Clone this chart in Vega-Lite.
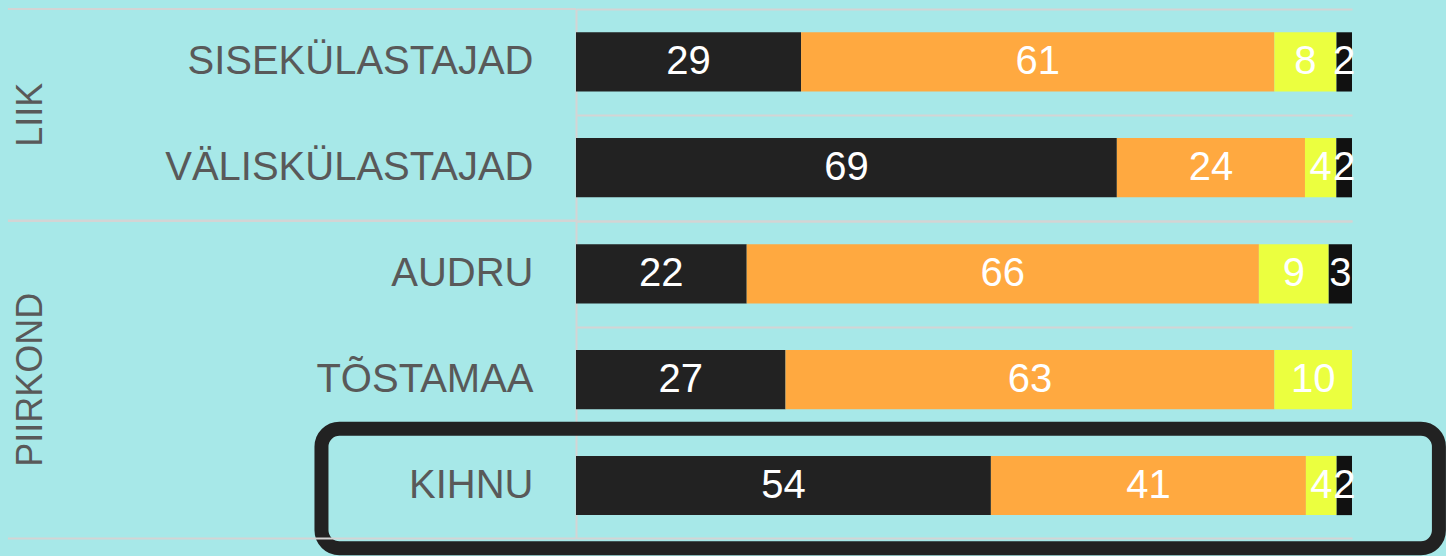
{
  "$schema": "https://vega.github.io/schema/vega-lite/v6.json",
  "background": "#a7e8e8",
  "padding": {"left": 6, "top": -11, "right": 0, "bottom": 0},
  "bounds": "flush",
  "data": {
    "values": [
      {"group": "LIIK", "row": "SISEKÜLASTAJAD", "cat": "k1", "value": 29},
      {"group": "LIIK", "row": "SISEKÜLASTAJAD", "cat": "k2", "value": 61},
      {"group": "LIIK", "row": "SISEKÜLASTAJAD", "cat": "k3", "value": 8},
      {"group": "LIIK", "row": "SISEKÜLASTAJAD", "cat": "k4", "value": 2},
      {"group": "LIIK", "row": "VÄLISKÜLASTAJAD", "cat": "k1", "value": 69},
      {"group": "LIIK", "row": "VÄLISKÜLASTAJAD", "cat": "k2", "value": 24},
      {"group": "LIIK", "row": "VÄLISKÜLASTAJAD", "cat": "k3", "value": 4},
      {"group": "LIIK", "row": "VÄLISKÜLASTAJAD", "cat": "k4", "value": 2},
      {"group": "PIIRKOND", "row": "AUDRU", "cat": "k1", "value": 22},
      {"group": "PIIRKOND", "row": "AUDRU", "cat": "k2", "value": 66},
      {"group": "PIIRKOND", "row": "AUDRU", "cat": "k3", "value": 9},
      {"group": "PIIRKOND", "row": "AUDRU", "cat": "k4", "value": 3},
      {"group": "PIIRKOND", "row": "TÕSTAMAA", "cat": "k1", "value": 27},
      {"group": "PIIRKOND", "row": "TÕSTAMAA", "cat": "k2", "value": 63},
      {"group": "PIIRKOND", "row": "TÕSTAMAA", "cat": "k3", "value": 10},
      {"group": "PIIRKOND", "row": "KIHNU", "cat": "k1", "value": 54},
      {"group": "PIIRKOND", "row": "KIHNU", "cat": "k2", "value": 41},
      {"group": "PIIRKOND", "row": "KIHNU", "cat": "k3", "value": 4},
      {"group": "PIIRKOND", "row": "KIHNU", "cat": "k4", "value": 2}
    ]
  },
  "transform": [
    {"stack": "value", "groupby": ["row"], "sort": [{"field": "cat", "order": "ascending"}], "as": ["v0", "v1"], "offset": "normalize"},
    {"calculate": "(datum.v0 + datum.v1) / 2", "as": "mid"}
  ],
  "facet": {
    "row": {
      "field": "group", "type": "nominal", "sort": ["LIIK", "PIIRKOND"], "title": null,
      "header": {"labelAngle": -90, "labelOrient": "left", "labelFont": "Liberation Sans", "labelFontSize": 36, "labelColor": "#595959", "labelPadding": 509}
    }
  },
  "spacing": 0,
  "resolve": {"scale": {"y": "independent"}, "axis": {"y": "independent"}},
  "spec": {
    "width": 776,
    "height": {"step": 105.8},
    "encoding": {
      "y": {
        "field": "row", "type": "nominal",
        "sort": ["SISEKÜLASTAJAD", "VÄLISKÜLASTAJAD", "AUDRU", "TÕSTAMAA", "KIHNU"],
        "title": null,
        "scale": {"paddingInner": 0, "paddingOuter": 0},
        "axis": {
          "labelFont": "Liberation Sans", "labelFontSize": 40, "labelColor": "#595959",
          "labelPadding": 43, "labelLimit": 700, "ticks": false,
          "domain": true, "domainColor": "#d4d4d4", "domainWidth": 2,
          "grid": true, "gridColor": "#d4d4d4", "gridWidth": 2, "tickBand": "extent"
        }
      }
    },
    "layer": [
      {
        "mark": {"type": "bar", "height": {"band": 0.56}},
        "encoding": {
          "x": {"field": "v0", "type": "quantitative", "scale": {"domain": [0, 1]}, "axis": null},
          "x2": {"field": "v1"},
          "color": {"field": "cat", "type": "nominal", "scale": {"domain": ["k1", "k2", "k3", "k4"], "range": ["#222222", "#ffa940", "#ebff3f", "#111111"]}, "legend": null}
        }
      },
      {
        "mark": {"type": "text", "color": "#ffffff", "font": "Liberation Sans", "fontSize": 40},
        "encoding": {
          "x": {"field": "mid", "type": "quantitative", "axis": null},
          "text": {"field": "value", "type": "quantitative"}
        }
      },
      {
        "transform": [{"filter": "datum.row === 'KIHNU' && datum.cat === 'k1'"}],
        "mark": {"type": "bar", "filled": false, "stroke": "#222222", "strokeWidth": 14, "cornerRadius": 18, "height": {"band": 1.13}, "yOffset": 3},
        "encoding": {"x": {"datum": -0.328, "axis": null}, "x2": {"datum": 1.112}}
      },
      {
        "transform": [
          {"filter": "datum.cat === 'k1'"},
          {"window": [{"op": "row_number", "as": "rn"}], "groupby": ["group"]},
          {"filter": "datum.rn === 1"}
        ],
        "mark": {"type": "rule", "color": "#d4d4d4", "strokeWidth": 2},
        "encoding": {
          "y": {"field": "row", "type": "nominal", "sort": ["SISEKÜLASTAJAD", "VÄLISKÜLASTAJAD", "AUDRU", "TÕSTAMAA", "KIHNU"], "bandPosition": 0},
          "x": {"datum": -0.732, "axis": null},
          "x2": {"datum": 0}
        }
      },
      {
        "transform": [
          {"filter": "datum.cat === 'k1'"},
          {"window": [{"op": "row_number", "as": "rn"}], "groupby": ["group"]},
          {"joinaggregate": [{"op": "count", "as": "n"}], "groupby": ["group"]},
          {"filter": "datum.rn === datum.n"}
        ],
        "mark": {"type": "rule", "color": "#d4d4d4", "strokeWidth": 2},
        "encoding": {
          "y": {"field": "row", "type": "nominal", "sort": ["SISEKÜLASTAJAD", "VÄLISKÜLASTAJAD", "AUDRU", "TÕSTAMAA", "KIHNU"], "bandPosition": 1},
          "x": {"datum": -0.732, "axis": null},
          "x2": {"datum": 0}
        }
      }
    ]
  },
  "config": {"view": {"stroke": null}}
}
